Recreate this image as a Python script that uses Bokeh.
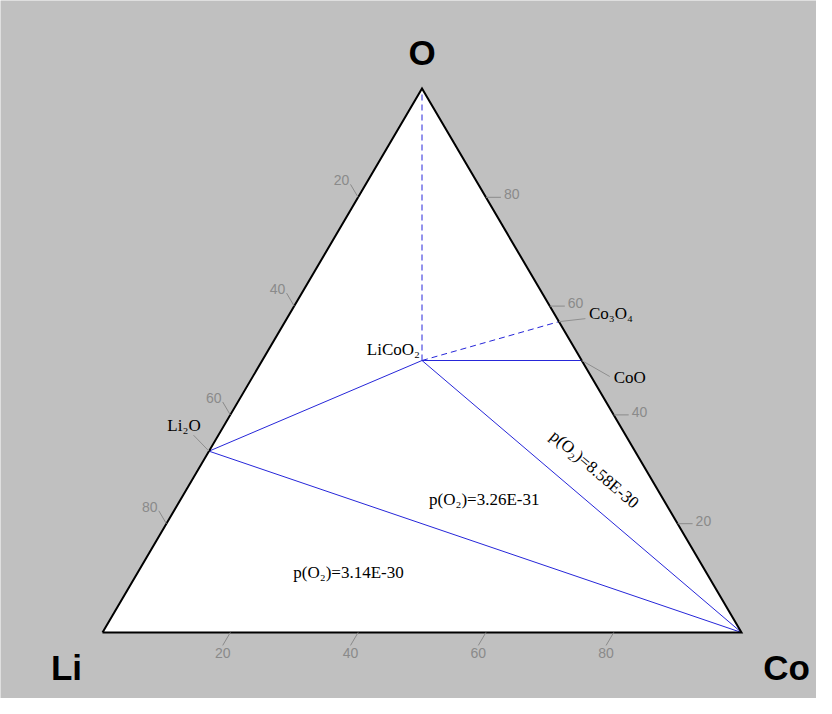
import math
from bokeh.plotting import figure
from bokeh.models import ColumnDataSource
from bokeh.core.properties import value
from bokeh.embed import file_html
from bokeh.resources import INLINE

# ---------------- data ----------------
components = ["Li", "Co", "O"]

phase_names = ["Li2O", "LiCoO2", "CoO", "Co3O4"]
phase_labels = ["Li\u2082O", "LiCoO\u2082", "CoO", "Co\u2083O\u2084"]
phase_li = [2 / 3, 1 / 4, 0.0, 0.0]
phase_co = [0.0, 1 / 4, 1 / 2, 3 / 7]
phase_o = [1 / 3, 1 / 2, 1 / 2, 4 / 7]

solid_ties = [("LiCoO2", "Li2O"), ("Li2O", "Co"), ("LiCoO2", "Co"), ("LiCoO2", "CoO")]
dashed_ties = [("LiCoO2", "O"), ("LiCoO2", "Co3O4")]

tick_values = [20, 40, 60, 80]

region_labels = ["p(O\u2082)=3.14E-30", "p(O\u2082)=3.26E-31", "p(O\u2082)=8.58E-30"]
region_li = [0.56, 0.28, 0.08]
region_co = [0.33, 0.475, 0.62]
region_o = [0.11, 0.245, 0.30]

# ---------------- geometry helpers ----------------
S = 639.0            # pixels per unit (Li->Co edge)
H = 544.0 / S        # triangle height in data units


def tern(li, co, o):
    return co + 0.5 * o, o * H


comp = {"Li": (1.0, 0.0, 0.0), "Co": (0.0, 1.0, 0.0), "O": (0.0, 0.0, 1.0)}
for n, a, b, c in zip(phase_names, phase_li, phase_co, phase_o):
    comp[n] = (a, b, c)
pos = {k: tern(*v) for k, v in comp.items()}


def px(dx, dy):
    """screen pixel offset (dy positive = up) to data offset"""
    return dx / S, dy / S


W, HH = 816, 698
p = figure(width=W, height=HH, x_range=(-102 / S, (W - 102) / S),
           y_range=((632 - HH) / S, 632 / S),
           x_axis_type=None, y_axis_type=None, toolbar_location=None,
           output_backend="svg", min_border=0)
p.background_fill_color = "#c0c0c0"
p.border_fill_color = "#c0c0c0"
p.outline_line_color = None
p.grid.visible = False

# triangle fill
tri_x = [pos["Li"][0], pos["Co"][0], pos["O"][0]]
tri_y = [pos["Li"][1], pos["Co"][1], pos["O"][1]]
p.patch(tri_x, tri_y, fill_color="white", line_color=None)

# tie lines
blue = "#2626d9"
for (a, b) in solid_ties:
    p.line([pos[a][0], pos[b][0]], [pos[a][1], pos[b][1]], line_color=blue, line_width=1)
for (a, b) in dashed_ties:
    p.line([pos[a][0], pos[b][0]], [pos[a][1], pos[b][1]], line_color=blue, line_width=1,
           line_dash="6 4")

# triangle border
p.line(tri_x + [tri_x[0]], tri_y + [tri_y[0]], line_color="black", line_width=2,
       line_join="miter")

# ---------------- ticks ----------------
gray = "#8a8a8a"
L = 15.0
nrm = math.hypot(0.5, H)
d_left_edge = (-0.5 / nrm, -H / nrm)     # down-left (bottom ticks)
d_up_left = (-0.5 / nrm, H / nrm)        # up-left (left ticks)

tx0, ty0, tx1, ty1 = [], [], [], []
lx, ly, lt, la = [], [], [], []
for v in tick_values:
    f = v / 100.0
    # bottom axis: Co fraction
    bx, by = tern(1 - f, f, 0.0)
    ex, ey = bx + d_left_edge[0] * L / S, by + d_left_edge[1] * L / S
    tx0.append(bx); ty0.append(by); tx1.append(ex); ty1.append(ey)
    ox, oy = px(0, -8)
    lx.append(ex + ox); ly.append(ey + oy); lt.append(str(v)); la.append("center")
    # left axis: Li fraction
    bx, by = tern(f, 0.0, 1 - f)
    ex, ey = bx + d_up_left[0] * L / S, by + d_up_left[1] * L / S
    tx0.append(bx); ty0.append(by); tx1.append(ex); ty1.append(ey)
    ox, oy = px(-9, 4)
    lx.append(ex + ox); ly.append(ey + oy); lt.append(str(v)); la.append("center")
    # right axis: O fraction
    bx, by = tern(0.0, 1 - f, f)
    ex, ey = bx + L / S, by
    tx0.append(bx); ty0.append(by); tx1.append(ex); ty1.append(ey)
    ox, oy = px(3, 3)
    lx.append(ex + ox); ly.append(ey + oy); lt.append(str(v)); la.append("left")

p.segment(tx0, ty0, tx1, ty1, line_color=gray, line_width=1)
p.text(x="x", y="y", text="t", text_align="a",
       source=ColumnDataSource(dict(x=lx, y=ly, t=lt, a=la)),
       text_font=value("Liberation Sans"), text_font_size="14px",
       text_color=gray, text_baseline="middle")

# ---------------- vertex labels ----------------
vx, vy = [], []
for name, (dx, dy) in zip(components, [(-36, -35), (45, -35), (0, 36)]):
    ox, oy = px(dx, dy)
    vx.append(pos[name][0] + ox)
    vy.append(pos[name][1] + oy)
p.text(vx, vy, text=components, text_font=value("Liberation Sans"), text_font_size="35px",
       text_font_style="bold", text_color="black", text_align="center",
       text_baseline="middle")

# ---------------- phase labels + leaders ----------------
label_off = {"LiCoO2": (-2, 11, "right"), "Li2O": (-25, 26, "center"),
             "Co3O4": (30, 8, "left"), "CoO": (32, -17, "left")}
leader_off = {"Li2O": (-15.5, 16), "Co3O4": (26.5, 3), "CoO": (28, -16)}

for name, lab in zip(phase_names, phase_labels):
    x0, y0 = pos[name]
    dx, dy, al = label_off[name]
    ox, oy = px(dx, dy)
    p.text([x0 + ox], [y0 + oy], text=[lab], text_font=value("Liberation Serif"),
           text_font_size="17px", text_color="black", text_align=al,
           text_baseline="middle")
    if name in leader_off:
        ldx, ldy = px(*leader_off[name])
        p.line([x0, x0 + ldx], [y0, y0 + ldy], line_color="#8f8f8f", line_width=1)

# ---------------- region labels ----------------
ang = math.atan2(pos["Co"][1] - pos["LiCoO2"][1], pos["Co"][0] - pos["LiCoO2"][0])
angles = [0.0, 0.0, ang]
rx, ry = [], []
for a, b, c in zip(region_li, region_co, region_o):
    x, y = tern(a, b, c)
    rx.append(x); ry.append(y)
p.text(x="x", y="y", text="t", angle="ang",
       source=ColumnDataSource(dict(x=rx, y=ry, t=region_labels, ang=angles)),
       text_font=value("Liberation Serif"), text_font_size="17px",
       text_color="black", text_align="center", text_baseline="middle")

open("out.html", "w").write(file_html(p, INLINE))
